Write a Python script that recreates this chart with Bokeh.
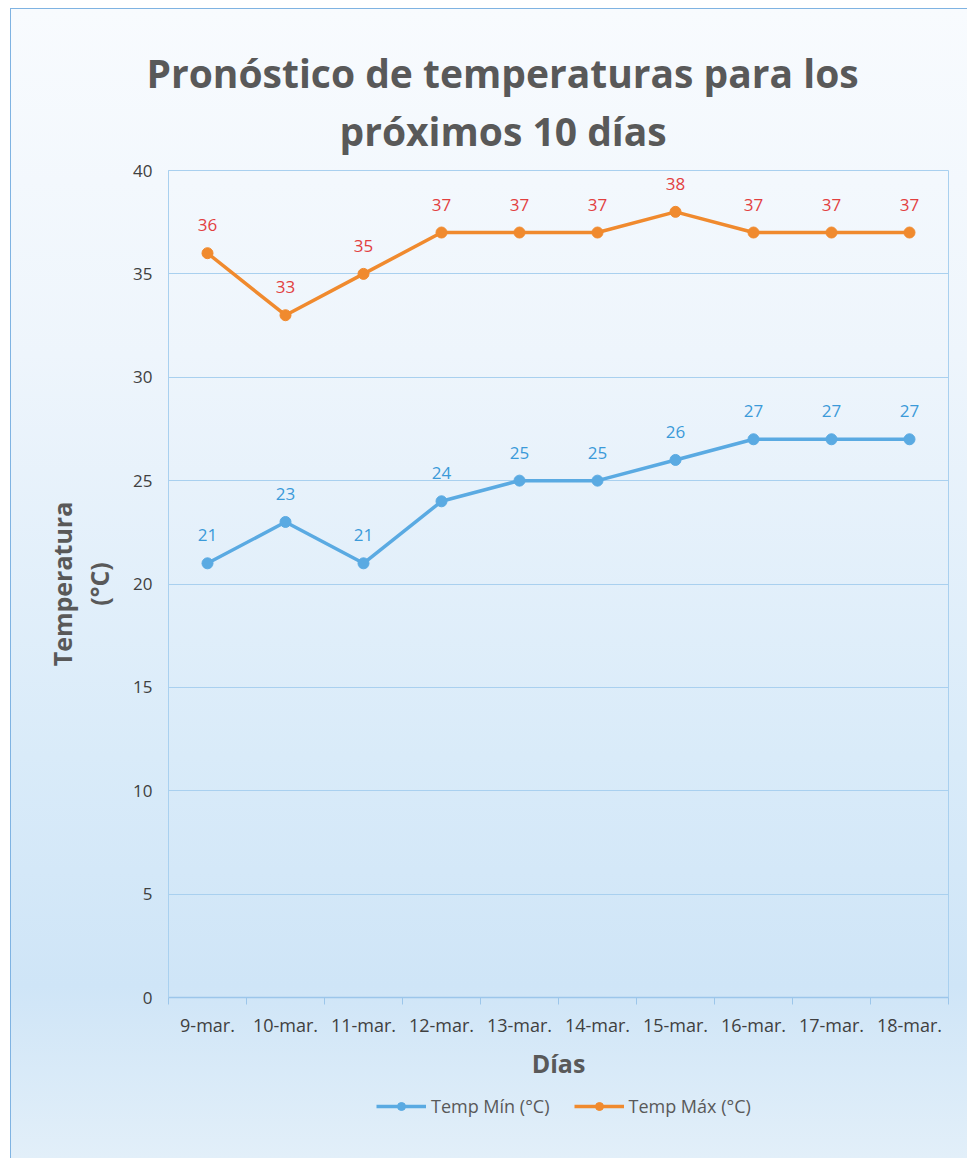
from bokeh.plotting import figure
from bokeh.layouts import column
from bokeh.models import ColumnDataSource, FixedTicker, Legend, LegendItem, Range1d, Title
from bokeh.core.properties import value
from bokeh.embed import file_html
from bokeh.resources import INLINE

categories = ["9-mar.", "10-mar.", "11-mar.", "12-mar.", "13-mar.",
              "14-mar.", "15-mar.", "16-mar.", "17-mar.", "18-mar."]
temp_min = [21, 23, 21, 24, 25, 25, 26, 27, 27, 27]
temp_max = [36, 33, 35, 37, 37, 37, 38, 37, 37, 37]
y_ticks = [0, 5, 10, 15, 20, 25, 30, 35, 40]
title_lines = ["Pronóstico de temperaturas para los", "próximos 10 días"]
series_names = ["Temp Mín (°C)", "Temp Máx (°C)"]

FONT = "Open Sans"
BLUE = "#5aaae2"
ORANGE = "#f08a2e"

xs = [i + 0.5 for i in range(len(categories))]
src = ColumnDataSource(dict(
    x=xs,
    tmin=temp_min,
    tmax=temp_max,
    lmin=[str(v) for v in temp_min],
    lmax=[str(v) for v in temp_max],
))

p = figure(frame_width=780, frame_height=827, output_backend="svg", toolbar_location=None,
           x_range=Range1d(0, len(categories)), y_range=Range1d(0, 40),
           min_border_left=157, min_border_right=19, min_border_top=161,
           min_border_bottom=90)
p.border_fill_alpha = 0
p.background_fill_alpha = 0
p.outline_line_color = "#a9d0ef"
p.outline_line_width = 1

# title: two centred lines (second line added first so it sits nearer the frame)
p.title = None
for txt, off, so in [(title_lines[1], 171, 27), (title_lines[0], -22, -21)]:
    p.add_layout(Title(text=txt, align="left", offset=off, text_font=FONT,
                       text_font_size="39px", text_font_style="bold",
                       text_color="#595959", standoff=so), "above")

# axes
p.xaxis.ticker = FixedTicker(ticks=xs, minor_ticks=list(range(len(categories) + 1)))
p.xaxis.major_label_overrides = {x: c for x, c in zip(xs, categories)}
p.xaxis.major_tick_line_color = None
p.xaxis.major_tick_out = 0
p.xaxis.major_tick_in = 0
p.xaxis.minor_tick_out = 7
p.xaxis.minor_tick_in = 0
p.xaxis.minor_tick_line_color = "#9cc6ea"
p.xaxis.axis_line_color = "#9cc6ea"
p.xaxis.axis_line_width = 1.5
p.xaxis.major_label_text_font = FONT
p.xaxis.major_label_text_font_size = "18px"
p.xaxis.major_label_text_color = "#404040"
p.xaxis.major_label_standoff = 8
p.xaxis.axis_label = "Días"
p.xaxis.axis_label_text_font = FONT
p.xaxis.axis_label_text_font_size = "25px"
p.xaxis.axis_label_text_font_style = "bold"
p.xaxis.axis_label_text_color = "#595959"
p.xaxis.axis_label_standoff = 6

p.yaxis.ticker = FixedTicker(ticks=y_ticks)
p.yaxis.major_tick_line_color = None
p.yaxis.minor_tick_line_color = None
p.yaxis.major_tick_out = 0
p.yaxis.axis_line_color = "#a9d0ef"
p.yaxis.major_label_text_font = FONT
p.yaxis.major_label_text_font_size = "17px"
p.yaxis.major_label_text_color = "#404040"
p.yaxis.major_label_standoff = 16
p.yaxis.axis_label = "Temperatura\n(°C)"
p.yaxis.axis_label_text_font = FONT
p.yaxis.axis_label_text_font_size = "25px"
p.yaxis.axis_label_text_font_style = "bold"
p.yaxis.axis_label_text_color = "#595959"
p.yaxis.axis_label_text_line_height = 1.1
p.yaxis.axis_label_standoff = 14

p.xgrid.grid_line_color = None
p.ygrid.ticker = FixedTicker(ticks=y_ticks)
p.ygrid.grid_line_color = "#a9d0ef"
p.ygrid.grid_line_width = 1

# series
p.line("x", "tmin", source=src, line_color=BLUE, line_width=3.5)
p.scatter("x", "tmin", source=src, size=11, fill_color=BLUE, line_color=BLUE)
p.line("x", "tmax", source=src, line_color=ORANGE, line_width=3.5)
p.scatter("x", "tmax", source=src, size=11, fill_color=ORANGE, line_color=ORANGE)

p.text("x", "tmin", text="lmin", source=src, text_align="center", text_baseline="bottom",
       y_offset=-22, text_font=value(FONT), text_font_size="17px", text_color="#3b9ad9")
p.text("x", "tmax", text="lmax", source=src, text_align="center", text_baseline="bottom",
       y_offset=-22, text_font=value(FONT), text_font_size="17px", text_color="#e2403f")

# legend strip below the chart (its own small figure; the proxy renderers sit
# outside its y-range so only the legend keys are visible)
lg = figure(width=956, height=71, output_backend="svg", toolbar_location=None,
            x_range=Range1d(0, len(categories)), y_range=Range1d(1000, 1001),
            x_axis_type=None, y_axis_type=None, min_border=0)
lg.border_fill_alpha = 0
lg.background_fill_alpha = 0
lg.outline_line_color = None
lg.grid.grid_line_color = None
ll1 = lg.line("x", "tmin", source=src, line_color=BLUE, line_width=3.5)
ls1 = lg.scatter("x", "tmin", source=src, size=11, fill_color=BLUE, line_color=BLUE)
ll2 = lg.line("x", "tmax", source=src, line_color=ORANGE, line_width=3.5)
ls2 = lg.scatter("x", "tmax", source=src, size=11, fill_color=ORANGE, line_color=ORANGE)

legend = Legend(items=[LegendItem(label=series_names[0], renderers=[ll1, ls1]),
                       LegendItem(label=series_names[1], renderers=[ll2, ls2])],
                orientation="horizontal", location=(198, 30),
                label_text_font=FONT, label_text_font_size="18px",
                label_text_color="#595959", glyph_width=50, spacing=24,
                background_fill_alpha=0, border_line_alpha=0, margin=0, padding=10)
lg.add_layout(legend, "center")

page = column(p, lg, spacing=0,
              styles={"background": "linear-gradient(to bottom, #f8fbfe 0%, #eef5fc 30%, #d9ebf9 65%, #cfe5f7 85%, #e2eff9 100%)",
                      "border-left": "1px solid #7fb3e2",
                      "border-top": "1px solid #7fb3e2",
                      "margin-left": "10px", "margin-top": "8px"})

open("out.html", "w").write(file_html(page, INLINE))
